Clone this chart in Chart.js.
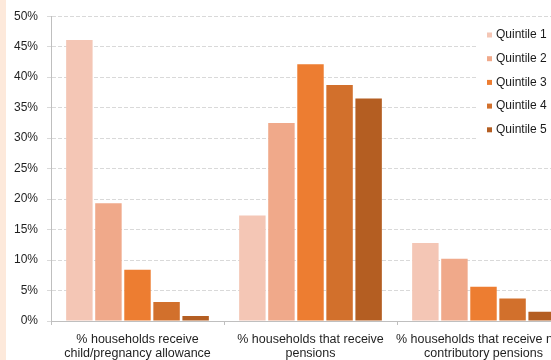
<!DOCTYPE html>
<html>
<head>
  <meta name="viewport" content="width=device-width, initial-scale=1.0">
  <script src="https://cdn.jsdelivr.net/npm/chart.js@4.4.1/dist/chart.umd.min.js"></script>
  <style>
    html, body { margin: 0; padding: 0; background: #fff; }
    .wrap { position: relative; width: 551px; height: 360px; overflow: hidden; }
    .strip { position: absolute; left: 0; top: 0; width: 6px; height: 360px; background: #fde9db; }
    .box { position: absolute; left: 0; top: 0; width: 586px; height: 360px; }
  </style>
</head>
<body>
  <div class="wrap">
    <div class="box"><canvas id="myChart" width="586" height="360"></canvas></div>
    <div class="strip"></div>
  </div>
  <script>
    const categories = [
      ['% households receive', 'child/pregnancy allowance'],
      ['% households that receive', 'pensions'],
      ['% households that receive non-', 'contributory pensions']
    ];
    const quintiles = ['Quintile 1', 'Quintile 2', 'Quintile 3', 'Quintile 4', 'Quintile 5'];
    const colors = ['#f4c6b5', '#f0a98a', '#ed7d31', '#d2702c', '#b45e22'];

    // share of households (%) per quintile, one array per category
    const childAllowance = [46.1, 19.3, 8.4, 3.1, 0.8];
    const pensions = [17.3, 32.5, 42.1, 38.7, 36.5];
    const nonContributory = [12.8, 10.2, 5.6, 3.7, 1.5];

    const yTicks = [0, 5, 10, 15, 20, 25, 30, 35, 40, 45, 50];

    const datasets = quintiles.map((q, i) => ({
      label: q,
      data: [childAllowance[i], pensions[i], nonContributory[i]],
      backgroundColor: colors[i],
      borderWidth: 0,
      barPercentage: 0.91,
      categoryPercentage: 0.84
    }));

    // legend drawn inside the plot, on a white panel over the gridlines
    const insideLegend = {
      id: 'insideLegend',
      afterDraw(chart) {
        const ctx = chart.ctx;
        ctx.save();
        ctx.fillStyle = '#fff';
        ctx.fillRect(478, 22, 120, 124);
        ctx.font = '12px "Liberation Sans", Arial, sans-serif';
        ctx.textBaseline = 'middle';
        chart.data.datasets.forEach((ds, i) => {
          const y = 34.5 + i * 23.7;
          ctx.fillStyle = ds.backgroundColor;
          ctx.fillRect(487, y - 2, 5, 5);
          ctx.fillStyle = '#1a1a1a';
          ctx.fillText(ds.label, 496, y + 0.5);
        });
        ctx.restore();
      }
    };

    Chart.defaults.font.family = '"Liberation Sans", Arial, sans-serif';
    Chart.defaults.font.size = 12;
    Chart.defaults.color = '#1f1f1f';

    const ctx = document.getElementById('myChart').getContext('2d');
    const myChart = new Chart(ctx, {
      type: 'bar',
      data: { labels: categories, datasets: datasets },
      plugins: [insideLegend],
      options: {
        responsive: false,
        animation: false,
        devicePixelRatio: 1,
        layout: { padding: { left: 0, right: 16, top: 16, bottom: 0 } },
        plugins: {
          legend: { display: false },
          tooltip: { enabled: false }
        },
        scales: {
          x: {
            grid: {
              offset: true,
              drawOnChartArea: false,
              drawTicks: true,
              tickLength: 4,
              color: '#bfbfbf'
            },
            border: { color: '#bfbfbf', width: 1 },
            ticks: {
              autoSkip: false,
              maxRotation: 0,
              minRotation: 0,
              padding: 8,
              font: { size: 12.5, lineHeight: 1.08 }
            },
            afterFit(scale) { scale.height = 39; }
          },
          y: {
            min: 0,
            max: 50,
            afterBuildTicks(scale) { scale.ticks = yTicks.map(v => ({ value: v })); },
            grid: {
              color: '#d9d9d9',
              tickLength: 4,
              drawTicks: true
            },
            border: { color: '#bfbfbf', width: 1, dash: [4, 2] },
            ticks: {
              autoSkip: false,
              padding: 9,
              callback: v => v + '%'
            },
            afterFit(scale) { scale.width = 51; }
          }
        }
      }
    });
  </script>
</body>
</html>
